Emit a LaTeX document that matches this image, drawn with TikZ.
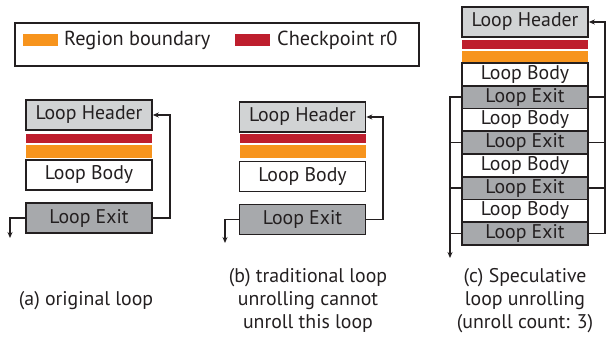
\documentclass[tikz,border=0pt]{standalone}
\usepackage{fontspec}
\setmainfont{PT Sans}
\usetikzlibrary{arrows.meta,positioning}
\definecolor{regionorange}{HTML}{F7941D}
\definecolor{ckptred}{HTML}{BE1E2D}
\definecolor{hdrgray}{HTML}{D1D3D4}
\definecolor{exitgray}{HTML}{A7A9AC}
\definecolor{ink}{HTML}{231F20}
\tikzset{
  blk/.style={draw=ink, line width=1.6pt, minimum width=126pt, minimum height=30pt,
    inner sep=0pt, font=\fontsize{19.8}{20}\selectfont, text=ink},
  hdr/.style={blk, fill=hdrgray},
  body/.style={blk, fill=white},
  exitblk/.style={blk, fill=exitgray},
  rowbody/.style={body, minimum height=22.75pt},
  rowexit/.style={exitblk, minimum height=22.75pt},
  bar/.style={minimum width=126pt, inner sep=0pt},
  redbar/.style={bar, fill=ckptred, minimum height=9pt},
  orangebar/.style={bar, fill=regionorange, minimum height=12.5pt},
  conn/.style={draw=ink, line width=1.3pt},
  arr/.style={conn, -{Stealth[length=6pt,width=5pt]}},
  caption/.style={align=center, font=\fontsize{19.8}{23}\selectfont, text=ink, inner sep=0pt},
  legtext/.style={font=\fontsize{20.3}{22}\selectfont, text=ink, anchor=west, inner sep=0pt},
}
\begin{document}
\begin{tikzpicture}[x=1pt,y=-1pt]
\useasboundingbox (0,0) rectangle (608,337);

% legend
\node[draw=ink, line width=1.5pt, minimum width=404pt, minimum height=43pt, inner sep=0pt] (legend) at (217,44.5) {};
\node[fill=regionorange, minimum width=35pt, minimum height=12pt, inner sep=0pt] (swo) at (40.5,40) {};
\node[legtext] (lego) at (64,40.5) {Region boundary};
\node[fill=ckptred, minimum width=35pt, minimum height=12pt, inner sep=0pt] (swr) at (252.5,40) {};
\node[legtext] (legr) at (277,40.5) {Checkpoint r0};

% (a) original loop
\node[hdr] (aH) at (89,115) {Loop Header};
\node[redbar] (aR) at (89,138.5) {};
\node[orangebar] (aO) at (89,151.5) {};
\node[body] (aB) at (89,175) {Loop Body};
\node[exitblk] (aE) at (89,218) {Loop Exit};
\coordinate (aRt) at (170,218);
\coordinate (aRb) at (170,115);
\draw[arr] (aE.east) -- (aRt) -- (aRb) -- (aH.east);
\coordinate (aLc) at (10,218);
\coordinate (aOut) at (10,238);
\draw[arr] (aE.west) -- (aLc) -- (aOut);
\node[caption] (capa) at (86,301) {(a) original loop};

% (b) traditional unrolling
\node[hdr] (bH) at (302.5,117) {Loop Header};
\node[redbar] (bR) at (302.5,138.5) {};
\node[orangebar] (bO) at (302.5,151.5) {};
\node[body] (bB) at (302.5,176.5) {Loop Body};
\node[exitblk] (bE) at (302.5,219.5) {Loop Exit};
\coordinate (bRt) at (383,219.5);
\coordinate (bRb) at (383,117);
\draw[arr] (bE.east) -- (bRt) -- (bRb) -- (bH.east);
\coordinate (bLc) at (225,219.5);
\coordinate (bOut) at (225,243);
\draw[arr] (bE.west) -- (bLc) -- (bOut);
\node[caption] (capb) at (308,300) {(b) traditional loop\\unrolling cannot\\unroll this loop};

% (c) speculative unrolling
\node[hdr] (cH) at (525,22) {Loop Header};
\node[redbar] (cR) at (525,44.5) {};
\node[orangebar] (cO) at (525,57) {};
\node[rowbody] (cB1) at (525,74.4) {Loop Body};
\node[rowexit] (cE1) at (525,97.1) {Loop Exit};
\node[rowbody] (cB2) at (525,119.9) {Loop Body};
\node[rowexit] (cE2) at (525,142.6) {Loop Exit};
\node[rowbody] (cB3) at (525,165.4) {Loop Body};
\node[rowexit] (cE3) at (525,188.1) {Loop Exit};
\node[rowbody] (cB4) at (525,210.9) {Loop Body};
\node[rowexit] (cE4) at (525,233.6) {Loop Exit};
% back edge on the right
\coordinate (cRtop) at (605,22);
\coordinate (cRbot) at (605,233.6);
\draw[arr] (cE4.east) -- (cRbot) -- (cRtop) -- (cH.east);
\foreach \e in {cE1,cE2,cE3}
  \draw[conn] (\e.east) -- (\e.east -| cRtop);
% exit edges on the left
\coordinate (cLtop) at (450,97.1);
\coordinate (cOut) at (450,258);
\draw[arr] (cE1.west) -- (cLtop) -- (cOut);
\foreach \e in {cE2,cE3,cE4}
  \draw[conn] (\e.west) -- (\e.west -| cLtop);
\node[caption] (capc) at (525,300.5) {(c) Speculative\\loop unrolling\\(unroll count: 3)};
\end{tikzpicture}
\end{document}
